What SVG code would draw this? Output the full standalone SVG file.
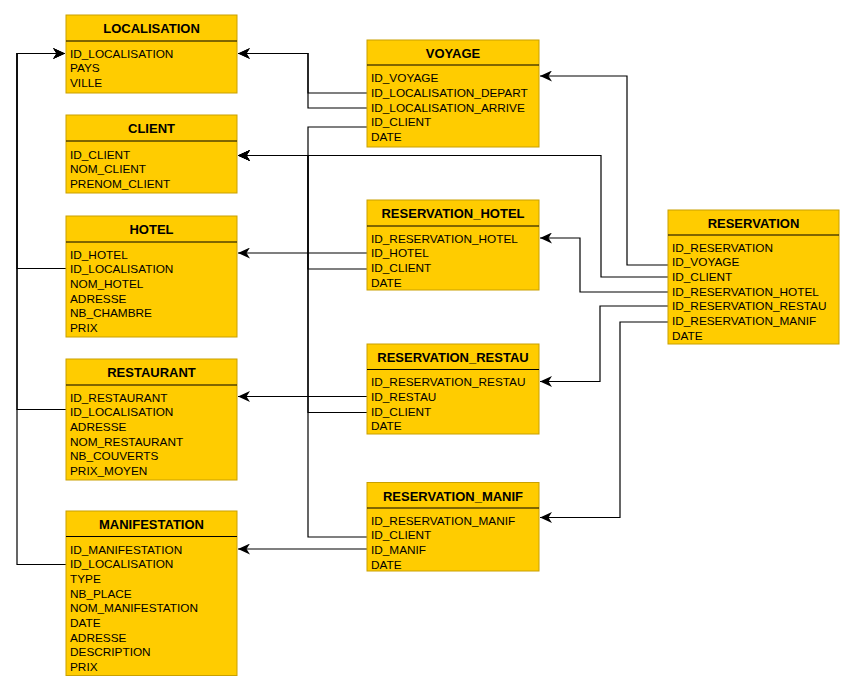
<svg xmlns="http://www.w3.org/2000/svg" width="855" height="691" viewBox="0 0 855 691">
<defs>
<style>
.box{fill:#FFCC00;stroke:#C9A000;stroke-width:1}
.sep{stroke:#000;stroke-width:1}
.t{font-family:"Liberation Sans",Arial,sans-serif;font-size:13px;font-weight:bold;text-anchor:middle;fill:#000}
.f{font-family:"Liberation Sans",Arial,sans-serif;font-size:11.8px;fill:#000}
.c{fill:none;stroke:#000;stroke-width:1.2}
</style>
<marker id="arr" markerUnits="userSpaceOnUse" markerWidth="13" markerHeight="11" refX="12" refY="5.5" orient="auto" viewBox="0 0 13 11">
<path d="M12,5.5 L0,0 L3.5,5.5 L0,11 Z" fill="#000"/>
</marker>
</defs>
<rect width="855" height="691" fill="#fff"/>
<g id="connectors">
<path class="c" d="M367,93 H308 V53.5 H238" marker-end="url(#arr)"/>
<path class="c" d="M367,108 H308 V53.5 H238" marker-end="url(#arr)"/>
<path class="c" d="M367,127 H308 V155.5 H238" marker-end="url(#arr)"/>
<path class="c" d="M668,277 H601 V155.5 H238" marker-end="url(#arr)"/>
<path class="c" d="M367,269 H308 V155.5 H238" marker-end="url(#arr)"/>
<path class="c" d="M367,412.5 H308 V155.5 H238" marker-end="url(#arr)"/>
<path class="c" d="M367,537 H308 V155.5 H238" marker-end="url(#arr)"/>
<path class="c" d="M367,253 H238" marker-end="url(#arr)"/>
<path class="c" d="M367,396.5 H238" marker-end="url(#arr)"/>
<path class="c" d="M367,549 H238" marker-end="url(#arr)"/>
<path class="c" d="M668,265 H627 V76 H540" marker-end="url(#arr)"/>
<path class="c" d="M668,292 H580 V238 H540" marker-end="url(#arr)"/>
<path class="c" d="M668,306 H600 V381.5 H540" marker-end="url(#arr)"/>
<path class="c" d="M668,322 H620 V517.5 H540" marker-end="url(#arr)"/>
<path class="c" d="M66,268.5 H17 V53.5 H65" marker-end="url(#arr)"/>
<path class="c" d="M66,409.5 H17 V53.5 H65" marker-end="url(#arr)"/>
<path class="c" d="M66,564.5 H17 V53.5 H65" marker-end="url(#arr)"/>
</g>
<g id="localisation">
<rect class="box" x="66" y="15" width="171" height="78"/>
<line class="sep" x1="66" y1="41" x2="237" y2="41"/>
<text class="t" x="151.5" y="33">LOCALISATION</text>
<text class="f" x="70" y="57.8">ID_LOCALISATION</text>
<text class="f" x="70" y="72.4">PAYS</text>
<text class="f" x="70" y="87">VILLE</text>
</g>
<g id="client">
<rect class="box" x="66" y="115" width="171" height="78"/>
<line class="sep" x1="66" y1="141" x2="237" y2="141"/>
<text class="t" x="151.5" y="133">CLIENT</text>
<text class="f" x="70" y="158.6">ID_CLIENT</text>
<text class="f" x="70" y="173.2">NOM_CLIENT</text>
<text class="f" x="70" y="187.8">PRENOM_CLIENT</text>
</g>
<g id="hotel">
<rect class="box" x="66" y="216" width="171" height="121"/>
<line class="sep" x1="66" y1="242" x2="237" y2="242"/>
<text class="t" x="151.5" y="234">HOTEL</text>
<text class="f" x="70" y="258.8">ID_HOTEL</text>
<text class="f" x="70" y="273.4">ID_LOCALISATION</text>
<text class="f" x="70" y="288.1">NOM_HOTEL</text>
<text class="f" x="70" y="302.7">ADRESSE</text>
<text class="f" x="70" y="317.4">NB_CHAMBRE</text>
<text class="f" x="70" y="332">PRIX</text>
</g>
<g id="restaurant">
<rect class="box" x="66" y="359" width="171" height="121"/>
<line class="sep" x1="66" y1="385" x2="237" y2="385"/>
<text class="t" x="151.5" y="377">RESTAURANT</text>
<text class="f" x="70" y="401.8">ID_RESTAURANT</text>
<text class="f" x="70" y="416.4">ID_LOCALISATION</text>
<text class="f" x="70" y="431.1">ADRESSE</text>
<text class="f" x="70" y="445.7">NOM_RESTAURANT</text>
<text class="f" x="70" y="460.4">NB_COUVERTS</text>
<text class="f" x="70" y="475">PRIX_MOYEN</text>
</g>
<g id="manifestation">
<rect class="box" x="66" y="511" width="171" height="164.5"/>
<line class="sep" x1="66" y1="536.5" x2="237" y2="536.5"/>
<text class="t" x="151.5" y="529">MANIFESTATION</text>
<text class="f" x="70" y="553.6">ID_MANIFESTATION</text>
<text class="f" x="70" y="568.3">ID_LOCALISATION</text>
<text class="f" x="70" y="582.9">TYPE</text>
<text class="f" x="70" y="597.6">NB_PLACE</text>
<text class="f" x="70" y="612.2">NOM_MANIFESTATION</text>
<text class="f" x="70" y="626.9">DATE</text>
<text class="f" x="70" y="641.5">ADRESSE</text>
<text class="f" x="70" y="656.2">DESCRIPTION</text>
<text class="f" x="70" y="670.8">PRIX</text>
</g>
<g id="voyage">
<rect class="box" x="367" y="40" width="172" height="107"/>
<line class="sep" x1="367" y1="65" x2="539" y2="65"/>
<text class="t" x="453" y="58">VOYAGE</text>
<text class="f" x="371" y="82.3">ID_VOYAGE</text>
<text class="f" x="371" y="97">ID_LOCALISATION_DEPART</text>
<text class="f" x="371" y="111.6">ID_LOCALISATION_ARRIVE</text>
<text class="f" x="371" y="126.3">ID_CLIENT</text>
<text class="f" x="371" y="140.9">DATE</text>
</g>
<g id="reservation_hotel">
<rect class="box" x="367" y="200" width="172" height="90"/>
<line class="sep" x1="367" y1="226" x2="539" y2="226"/>
<text class="t" x="453" y="218">RESERVATION_HOTEL</text>
<text class="f" x="371" y="242.6">ID_RESERVATION_HOTEL</text>
<text class="f" x="371" y="257.3">ID_HOTEL</text>
<text class="f" x="371" y="271.9">ID_CLIENT</text>
<text class="f" x="371" y="286.6">DATE</text>
</g>
<g id="reservation_restau">
<rect class="box" x="367" y="344" width="172" height="90"/>
<line class="sep" x1="367" y1="369.5" x2="539" y2="369.5"/>
<text class="t" x="453" y="361.5">RESERVATION_RESTAU</text>
<text class="f" x="371" y="386.3">ID_RESERVATION_RESTAU</text>
<text class="f" x="371" y="400.9">ID_RESTAU</text>
<text class="f" x="371" y="415.6">ID_CLIENT</text>
<text class="f" x="371" y="430.2">DATE</text>
</g>
<g id="reservation_manif">
<rect class="box" x="367" y="482.5" width="172" height="88.5"/>
<line class="sep" x1="367" y1="508" x2="539" y2="508"/>
<text class="t" x="453" y="500.5">RESERVATION_MANIF</text>
<text class="f" x="371" y="524.6">ID_RESERVATION_MANIF</text>
<text class="f" x="371" y="539.3">ID_CLIENT</text>
<text class="f" x="371" y="553.9">ID_MANIF</text>
<text class="f" x="371" y="568.6">DATE</text>
</g>
<g id="reservation">
<rect class="box" x="668" y="210" width="171" height="134"/>
<line class="sep" x1="668" y1="235" x2="839" y2="235"/>
<text class="t" x="753.5" y="227.5">RESERVATION</text>
<text class="f" x="672" y="251.6">ID_RESERVATION</text>
<text class="f" x="672" y="266.3">ID_VOYAGE</text>
<text class="f" x="672" y="280.9">ID_CLIENT</text>
<text class="f" x="672" y="295.6">ID_RESERVATION_HOTEL</text>
<text class="f" x="672" y="310.2">ID_RESERVATION_RESTAU</text>
<text class="f" x="672" y="324.9">ID_RESERVATION_MANIF</text>
<text class="f" x="672" y="339.5">DATE</text>
</g>
</svg>
